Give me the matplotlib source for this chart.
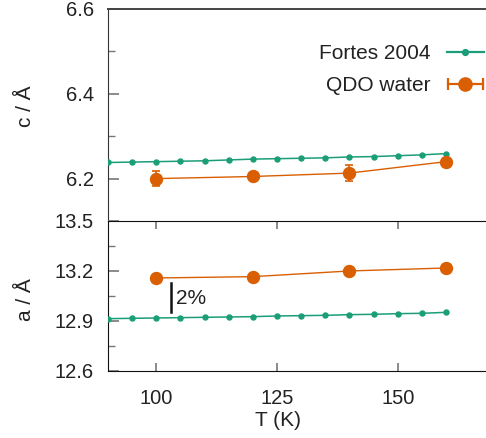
#!/usr/bin/env python3
"""Lattice parameters c and a of ice against temperature: reference vs QDO water."""

import matplotlib

matplotlib.use('Agg')
import matplotlib.pyplot as plt
from matplotlib.lines import Line2D
from matplotlib.legend_handler import HandlerLine2D, HandlerTuple
from matplotlib.ticker import MultipleLocator

plt.rcParams['font.family'] = ['Liberation Sans', 'DejaVu Sans']

GREEN = '#1b9e77'
ORANGE = '#d95f02'

# Fortes 2004 reference curve
fortes_T = [90, 95, 100, 105, 110, 115, 120, 125, 130, 135, 140, 145, 150, 155, 160]
fortes_c = [6.238, 6.239, 6.240, 6.241, 6.242, 6.244, 6.246, 6.247, 6.248, 6.249,
            6.251, 6.252, 6.254, 6.256, 6.259]
fortes_a = [12.914, 12.916, 12.918, 12.920, 12.922, 12.924, 12.926, 12.930, 12.932,
            12.934, 12.938, 12.940, 12.944, 12.946, 12.952]

# QDO water simulations
qdo_T = [100, 120, 140, 160]
qdo_c = [6.200, 6.205, 6.213, 6.240]
qdo_c_err = [0.018, 0.0, 0.018, 0.0]
qdo_a = [13.158, 13.166, 13.200, 13.218]

fig = plt.figure(figsize=(4.86, 4.38), dpi=100)
ax_c = fig.add_axes([0.2222, 0.4954, 0.795, 0.4841])
ax_a = fig.add_axes([0.2222, 0.1530, 0.795, 0.3425])

for ax in (ax_c, ax_a):
    ax.set_xlim(90, 170)
    ax.spines['right'].set_visible(False)
    ax.tick_params(axis='y', which='both', direction='in', colors='#777777',
                   labelcolor='#222222', labelsize=14.5, pad=10)
    ax.tick_params(axis='y', which='major', length=8, width=1.2)
    ax.tick_params(axis='y', which='minor', length=5, width=1.0)

# upper panel: c
ax_c.plot(fortes_T, fortes_c, color=GREEN, lw=1.1, marker='o', ms=3.6, zorder=3)
ax_c.errorbar(qdo_T, qdo_c, yerr=qdo_c_err, color=ORANGE, lw=1.0, marker='o', ms=8.6,
              capsize=2.8, elinewidth=1.2, capthick=1.2, zorder=4)
ax_c.set_ylim(6.1, 6.6)
ax_c.set_yticks([6.2, 6.4, 6.6])
ax_c.yaxis.set_minor_locator(MultipleLocator(0.1))
ax_c.tick_params(axis='x', which='both', bottom=False, top=False, labelbottom=False)
ax_c.spines['bottom'].set_visible(False)
ax_c.spines['top'].set_color('#444444')
ax_c.spines['top'].set_linewidth(1.4)
ax_c.spines['left'].set_color('#333333')

# lower panel: a
ax_a.plot(fortes_T, fortes_a, color=GREEN, lw=1.1, marker='o', ms=3.6, zorder=3)
ax_a.plot(qdo_T, qdo_a, color=ORANGE, lw=1.0, marker='o', ms=8.6, zorder=4)
ax_a.set_ylim(12.6, 13.5)
ax_a.set_yticks([12.6, 12.9, 13.2, 13.5])
ax_a.yaxis.set_minor_locator(MultipleLocator(0.15))
ax_a.set_xticks([100, 125, 150])
ax_a.tick_params(axis='x', direction='in', top=True, length=6, width=1.2,
                 colors='#777777', labelcolor='#222222', labelsize=14.5, pad=13)
for side in ('top', 'bottom', 'left'):
    ax_a.spines[side].set_color('#111111')

# 2% scale bar
ax_a.plot([103.05, 103.05], [12.956, 13.13], color='#111111', lw=1.8)
ax_a.text(104.0, 13.035, '2%', fontsize=15, color='#222222', va='center', ha='left')

fig.text(0.052, 1 - 106 / 438, 'c / Å', rotation=90, fontsize=15, color='#222222',
         ha='center', va='center')
fig.text(0.052, 1 - 300 / 438, 'a / Å', rotation=90, fontsize=15, color='#222222',
         ha='center', va='center')
fig.text(278 / 486, 1 - 421 / 438, 'T (K)', fontsize=15, color='#222222',
         ha='center', va='center')

# legend with a horizontal capped bar for the QDO entry
fortes_handle = Line2D([], [], color=GREEN, lw=1.6, marker='o', ms=4.2)
caps = Line2D([], [], color=ORANGE, lw=1.6, marker='|', ms=9, mew=1.6)
dot = Line2D([], [], color=ORANGE, ls='none', marker='o', ms=9.5)
ax_c.legend([fortes_handle, (caps, dot)], ['Fortes 2004', 'QDO water'],
            handler_map={caps: HandlerLine2D(numpoints=2, marker_pad=0.05),
                         tuple: HandlerTuple(ndivide=1)},
            loc='upper right', bbox_to_anchor=(484 / 486, 1 - 44 / 438),
            bbox_transform=fig.transFigure, frameon=False, markerfirst=False,
            fontsize=15, borderpad=0, borderaxespad=0, handlelength=1.8,
            handletextpad=0.75, labelspacing=0.62, labelcolor='#222222')

fig.savefig('out.png', dpi=100)
